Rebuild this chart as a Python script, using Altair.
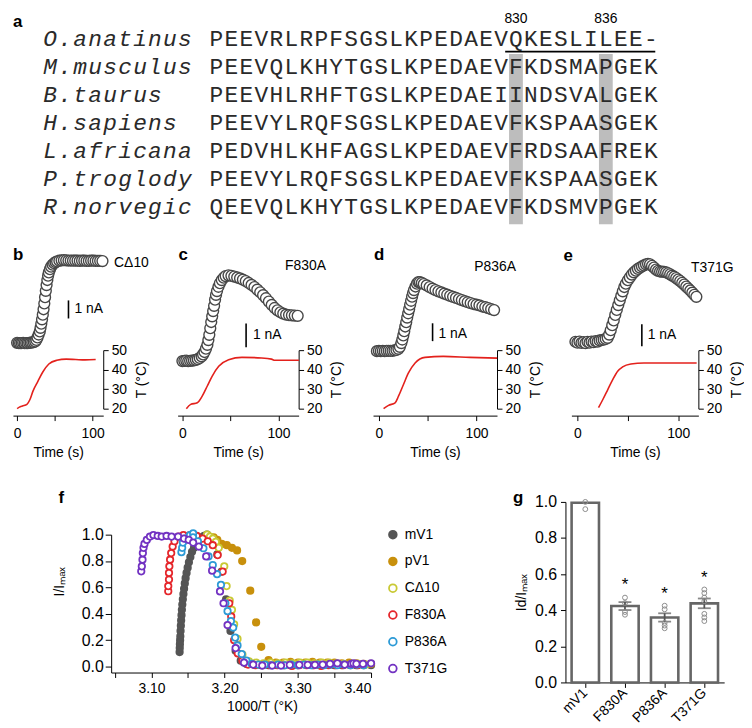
import altair as alt
import pandas as pd

SANS = "Liberation Sans"
MONO = "Liberation Mono"

# ---------------- panel a : sequence alignment ----------------
species = ["O.anatinus", "M.musculus", "B.taurus", "H.sapiens",
           "L.africana", "P.troglody", "R.norvegic"]
sequences = [
    "PEEVRLRPFSGSLKPEDAEVQKESLILEE-",
    "PEEVQLKHYTGSLKPEDAEVFKDSMAPGEK",
    "PEEVHLRHFTGSLKPEDAEIINDSVALGEK",
    "PEEVYLRQFSGSLKPEDAEVFKSPAASGEK",
    "PEDVHLKHFAGSLKPEDAEVFRDSAAFREK",
    "PEEVYLRQFSGSLKPEDAEVFKSPAASGEK",
    "QEEVQLKHYTGSLKPEDAEVFKDSMVPGEK",
]
marked_cols = [20, 26]
marked_labels = ["830", "836"]
underline_cols = [20, 29]

# ---------------- panels b-e : current traces (s, nA) and temperature (s, degC) ----------------
b_trace = [(0,0.02),(2,0.01),(4,0.0),(6,0.01),(8,0.02),(10,0.0),(12,0.01),(14,0.0),(16,0.02),(18,0.03),
           (20,0.04),(22,0.06),(24,0.1),(25.5,0.18),(27,0.32),(28.5,0.48),(30,0.65),(31,0.85),(32,1.08),
           (33,1.32),(34,1.58),(35,1.88),(36,2.2),(37,2.55),(38,2.9),(39,3.22),(40,3.5),(41,3.74),(42,3.92),
           (43.5,4.1),(45,4.24),(47,4.35),(49,4.43),(51,4.49),(53,4.53),(56,4.57),(59,4.59),(62,4.6),(65,4.59),
           (68,4.58),(71,4.58),(74,4.57),(77,4.57),(80,4.57),(83,4.56),(86,4.57),(89,4.57),(92,4.56),(95,4.56),
           (98,4.57),(101,4.57),(104,4.56),(107,4.56),(110,4.56),(113,4.55)]
c_trace = [(0,0.0),(2,0.01),(4,0.02),(6,0.0),(8,0.01),(10,0.02),(12,0.03),(14,0.05),(16,0.08),(18,0.13),
           (20,0.2),(21.5,0.28),(23,0.38),(24.5,0.52),(26,0.68),(27,0.88),(28,1.1),(29,1.38),(30,1.64),(31,1.88),
           (32,2.1),(33,2.32),(34,2.58),(35,2.78),(36,2.94),(37.5,3.12),(39,3.27),(41,3.4),(43,3.5),(45,3.57),
           (48,3.6),(51,3.58),(54,3.55),(57,3.51),(60,3.47),(63,3.42),(66,3.36),(69,3.28),(72,3.2),(75,3.11),
           (78,3.0),(81,2.89),(84,2.77),(87,2.64),(90,2.5),(93,2.36),(96,2.23),(99,2.13),(102,2.05),(105,1.99),
           (108,1.95),(111,1.93),(114,1.92),(117,1.91),(120,1.9)]
d_trace = [(-2,0.0),(0,0.01),(2,0.0),(4,0.01),(6,0.0),(8,0.01),(10,0.02),(12,0.01),(14,0.02),(16,0.04),
           (18,0.07),(20,0.13),(21.5,0.24),(23,0.45),(24,0.65),(25,0.88),(26,1.12),(27,1.38),(28,1.62),(29,1.88),
           (30,2.12),(31,2.35),(32,2.6),(33,2.82),(34,3.05),(35,3.25),(36,3.42),(37.5,3.62),(39,3.78),(40.5,3.87),
           (42,3.86),(44,3.82),(46,3.76),(49,3.68),(52,3.59),(55,3.5),(58,3.42),(61,3.35),(64,3.29),(67,3.22),
           (70,3.16),(73,3.1),(76,3.04),(79,2.98),(82,2.92),(85,2.86),(88,2.8),(91,2.74),(94,2.69),(97,2.64),
           (100,2.6),(103,2.56),(106,2.5),(109,2.46),(112,2.41),(115,2.35),(118,2.3)]
e_trace = [(-2,0.02),(0,-0.02),(2,0.03),(4,-0.03),(6,0.0),(8,-0.04),(10,0.02),(12,-0.02),(14,0.03),(16,0.0),
           (18,0.05),(20,0.03),(22,0.08),(24,0.1),(26,0.12),(28,0.15),(30,0.2),(31.5,0.35),(33,0.55),(34.5,0.78),
           (36,1.0),(37.5,1.25),(39,1.48),(40.5,1.7),(42,1.92),(43.5,2.12),(45,2.33),(46.5,2.53),(48,2.68),(50,2.84),
           (52,2.97),(54,3.1),(56,3.2),(58,3.28),(60,3.36),(62,3.42),(64,3.47),(66,3.52),(68,3.57),(70,3.59),
           (72,3.57),(74,3.5),(76,3.42),(78,3.33),(80,3.27),(82,3.24),(84,3.23),(86,3.22),(88,3.2),(90,3.16),
           (92,3.11),(94,3.05),(96,3.0),(98,2.94),(100,2.87),(102,2.8),(104,2.72),(106,2.64),(108,2.55),(110,2.46),
           (112,2.37),(114,2.27),(116,2.17),(118,2.08)]

b_temp = [(0,20),(3,20.8),(7,21.4),(13,22.2),(17,24.7),(21,29),(27.5,34),(34,38.8),(42,42.9),(52.5,44.8),
          (65,45.4),(77.5,45.2),(90,45),(104,45.2)]
c_temp = [(4.1,20),(8.6,22.2),(15.5,23),(20.6,26.4),(25.8,31.5),(30.9,36.6),(37.8,41.7),(48.1,45.1),
          (61.9,46.3),(82.5,46),(92.8,45.4),(96.2,44.8),(121.3,44.8)]
d_temp = [(4.8,20),(9.9,21.7),(16.6,23),(20.1,26.4),(25.2,32.4),(30.3,38.3),(37.1,43.4),(47.3,46.3),
          (66,46.8),(93.2,46.3),(121.1,45.9)]
e_temp = [(20.9,20.5),(25.2,24.7),(30.1,29.8),(35,34.9),(39.9,39.2),(44.8,41.4),(53,42.9),(66,43.4),
          (82,43.4),(118.3,43.4)]

# ---------------- panel f : I/Imax vs 1000/T ----------------
f_series = ["mV1", "pV1", "C\u039410", "F830A", "P836A", "T371G"]
mV1_pts = [(3.1385,0.11),(3.1387,0.14),(3.1389,0.17),(3.1392,0.20),(3.1395,0.23),(3.1398,0.27),(3.1402,0.31),
           (3.1406,0.35),(3.1411,0.39),(3.1416,0.43),(3.1422,0.47),(3.1429,0.51),(3.1437,0.55),(3.1446,0.59),
           (3.1456,0.63),(3.1467,0.67),(3.1480,0.71),(3.1495,0.75),(3.1512,0.79),(3.1532,0.83),(3.1555,0.87),
           (3.1582,0.90),(3.1612,0.93),(3.1645,0.96),(3.1680,0.98),(3.1720,0.99),(3.1760,1.00),(3.1800,0.98),
           (3.1850,0.93),(3.1900,0.85),(3.1960,0.72),(3.2020,0.51),(3.2080,0.27),(3.2150,0.12),(3.2220,0.045),
           (3.2300,0.02),(3.2400,0.015),(3.2500,0.01),(3.2600,0.01),(3.2700,0.015),(3.2800,0.01),(3.2900,0.01),
           (3.3000,0.01),(3.3100,0.015),(3.3200,0.01),(3.3300,0.01),(3.3400,0.015),(3.3500,0.01),(3.3600,0.01),
           (3.3700,0.015),(3.3800,0.01),(3.3900,0.01),(3.4000,0.01)]
pV1_pts = [(3.185,0.98),(3.190,0.96),(3.196,0.93),(3.203,0.92),(3.210,0.90),(3.217,0.88),(3.224,0.80),
           (3.235,0.575),(3.243,0.335),(3.250,0.15),(3.260,0.05),(3.270,0.03),(3.280,0.03),(3.290,0.035),
           (3.300,0.03),(3.310,0.03),(3.320,0.035),(3.330,0.03),(3.340,0.03),(3.350,0.03),(3.360,0.025),
           (3.370,0.03),(3.380,0.025),(3.390,0.02),(3.400,0.02)]
cd10_pts = [(3.176,1.0),(3.180,0.985),(3.184,0.97),(3.188,0.945),(3.192,0.90),(3.1995,0.76),(3.2027,0.61),
            (3.207,0.50),(3.210,0.43),(3.213,0.32),(3.2176,0.21),(3.2243,0.09),(3.2333,0.04),(3.243,0.03),
            (3.253,0.025),(3.263,0.03),(3.273,0.025),(3.283,0.03),(3.293,0.025),(3.303,0.03),(3.313,0.03),
            (3.323,0.025),(3.333,0.03),(3.343,0.03),(3.353,0.025),(3.363,0.02),(3.373,0.02),(3.383,0.02),
            (3.393,0.015)]
f830_pts = [(3.123,0.571),(3.123,0.61),(3.124,0.66),(3.124,0.71),(3.1245,0.76),(3.1255,0.81),(3.127,0.86),
            (3.129,0.91),(3.1315,0.95),(3.137,0.985),(3.1437,0.997),(3.1527,0.997),(3.162,0.99),(3.170,0.97),
            (3.177,0.95),(3.1838,0.92),(3.1905,0.845),(3.1973,0.72),(3.2063,0.48),(3.209,0.38),(3.213,0.20),
            (3.218,0.10),(3.2243,0.045),(3.232,0.015),(3.242,0.01),(3.252,0.01),(3.262,0.01),(3.272,0.01),
            (3.282,0.01),(3.292,0.005),(3.302,0.01),(3.312,0.01),(3.322,0.01),(3.332,0.005),(3.342,0.01),
            (3.352,0.01),(3.362,0.01),(3.372,0.01),(3.382,0.01)]
p836_pts = [(3.141,0.867),(3.142,0.90),(3.143,0.94),(3.1465,0.97),(3.1527,0.997),(3.157,1.01),(3.1568,0.98),
            (3.1635,0.95),(3.171,0.897),(3.178,0.835),(3.1838,0.77),(3.1897,0.70),(3.195,0.62),(3.201,0.48),
            (3.204,0.42),(3.2086,0.345),(3.2117,0.296),(3.2144,0.22),(3.2176,0.16),(3.2234,0.095),(3.2297,0.046),
            (3.237,0.02),(3.246,0.015),(3.255,0.015),(3.264,0.01),(3.273,0.015),(3.282,0.01),(3.291,0.015),
            (3.30,0.01),(3.309,0.015),(3.318,0.01),(3.327,0.015),(3.336,0.01),(3.345,0.015),(3.354,0.01),
            (3.363,0.015),(3.372,0.01),(3.381,0.015),(3.39,0.01)]
t371_pts = [(3.0861,0.722),(3.0869,0.76),(3.0878,0.81),(3.0883,0.86),(3.0892,0.90),(3.0905,0.93),(3.0937,0.96),
            (3.098,0.985),(3.1027,0.997),(3.1086,0.99),(3.114,0.985),(3.1207,0.99),(3.1275,0.985),(3.1365,0.985),
            (3.1446,0.97),(3.151,0.96),(3.157,0.94),(3.1648,0.91),(3.1748,0.835),(3.1829,0.727),(3.1937,0.57),
            (3.1985,0.48),(3.204,0.315),(3.215,0.14),(3.2265,0.03),(3.239,0.015),(3.2514,0.008),(3.265,0.008),
            (3.277,0.008),(3.289,0.013),(3.302,0.013),(3.3135,0.013),(3.3234,0.013),(3.334,0.015),(3.344,0.02),
            (3.354,0.025),(3.364,0.015),(3.373,0.02),(3.376,0.025),(3.380,0.02),(3.389,0.02),(3.400,0.025)]
f_values = [mV1_pts, pV1_pts, cd10_pts, f830_pts, p836_pts, t371_pts]
f_colors = ["#555555", "#c8900c", "#c9c935", "#e5262b", "#2c9ad6", "#7232c2"]
f_fills = ["#555555", "#c8900c", "white", "white", "white", "white"]

# ---------------- panel g : Id/Imax ----------------
g_groups = ["mV1", "F830A", "P836A", "T371G"]
g_means = [0.995, 0.423, 0.36, 0.438]
g_sem = [0.0, 0.022, 0.023, 0.027]
g_points = [[1.0, 0.96], [0.47, 0.44, 0.39, 0.375], [0.425, 0.405, 0.33, 0.315, 0.30],
            [0.515, 0.495, 0.47, 0.45, 0.38, 0.36, 0.34]]
g_star = [None, 0.54, 0.49, 0.577]

# =====================================================================
W, HT = 730, 674          # one drawing area; every panel has its own scales inside it
layers = []

# ---------------- panel a ----------------
A_X = alt.Scale(domain=[-13.58, 34.76], range=[0, W], nice=False, zero=False)
A_Y = alt.Scale(domain=[-0.894, 6.7], range=[0, 215], nice=False, zero=False)
seq_df = pd.DataFrame([{"row": r, "col": c, "ch": ch}
                       for r, s in enumerate(sequences) for c, ch in enumerate(s)])
name_df = pd.DataFrame([{"row": r, "col": -11.1 + k, "ch": ch}
                        for r, s in enumerate(species) for k, ch in enumerate(s)])
hl_df = pd.DataFrame({"x0": [c - 0.46 for c in marked_cols], "x1": [c + 0.46 for c in marked_cols],
                      "y0": [0.53] * 2, "y1": [6.6] * 2})
num_df = pd.DataFrame({"col": marked_cols, "label": marked_labels, "row": [-0.72] * 2})
ul_df = pd.DataFrame({"x0": [underline_cols[0] - 0.72], "x1": [underline_cols[1] + 0.3], "y": [0.45]})
a_lab = pd.DataFrame({"col": [-13.58], "row": [-0.894], "t": ["a"]})

ax = lambda f: alt.X(f, scale=A_X, axis=None)
ay = lambda f: alt.Y(f, scale=A_Y, axis=None)
layers += [
    alt.Chart(hl_df).mark_rect(color="#bdbdbd").encode(x=ax("x0:Q"), x2="x1:Q", y=ay("y0:Q"), y2="y1:Q"),
    alt.Chart(ul_df).mark_rule(color="black", strokeWidth=1.8).encode(x=ax("x0:Q"), x2="x1:Q", y=ay("y:Q")),
    alt.Chart(seq_df).mark_text(font=MONO, fontSize=23, color="#2a2a2a", baseline="middle").encode(
        x=ax("col:Q"), y=ay("row:Q"), text="ch:N"),
    alt.Chart(name_df).mark_text(font=MONO, fontSize=23, fontStyle="italic", color="#2a2a2a",
                                 baseline="middle").encode(x=ax("col:Q"), y=ay("row:Q"), text="ch:N"),
    alt.Chart(num_df).mark_text(font=SANS, fontSize=14, baseline="middle").encode(
        x=ax("col:Q"), y=ay("row:Q"), text="label:N"),
    alt.Chart(a_lab).mark_text(font=SANS, fontSize=17, fontWeight="bold", align="left", baseline="top").encode(
        x=ax("col:Q"), y=ay("row:Q"), text="t:N"),
]

# ---------------- panels b-e ----------------
panel_cfg = [
    dict(letter="b", name="C\u039410", trace=b_trace, temp=b_temp, tdom=[-5.5, 114], xr=[0, 91], base=332, ppn=18.2,
         bar=(68.0, 1.37), nA=(75.9, 1.87), name_at=(128.4, 4.45), name_align="left", letter_at=(-5.5, 4.6)),
    dict(letter="c", name="F830A", trace=c_trace, temp=c_temp, tdom=[-5, 121], xr=[166, 288], base=350, ppn=24,
         bar=(66.3, 0.58), nA=(73.5, 1.08), name_at=(128.2, 4.0), name_align="center", letter_at=(-4, 4.25)),
    dict(letter="d", name="P836A", trace=d_trace, temp=d_temp, tdom=[-6, 121], xr=[363, 488], base=340, ppn=18,
         bar=(55, 0.56), nA=(61.1, 0.94), name_at=(119, 4.72), name_align="center", letter_at=(-5, 5.1)),
    dict(letter="e", name="T371G", trace=e_trace, temp=e_temp, tdom=[-6, 120], xr=[563, 691], base=331, ppn=22,
         bar=(63.9, -0.18), nA=(69.8, 0.32), name_at=(133.8, 3.41), name_align="center", letter_at=(-13.9, 3.72)),
]
T_RANGE = [398, 339]      # 20 degC .. 50 degC
TIME_AXIS_Y = 405

for p in panel_cfg:
    xs = alt.Scale(domain=p["tdom"], range=p["xr"], nice=False, zero=False)
    cur = alt.Scale(domain=[0, 1], range=[p["base"], p["base"] - p["ppn"]], nice=False, zero=False)
    tsc = alt.Scale(domain=[20, 50], range=T_RANGE, nice=False, zero=False)
    tdf = pd.DataFrame(p["temp"], columns=["t", "T"])
    cdf = pd.DataFrame(p["trace"], columns=["t", "I"])
    xaxis = alt.Axis(orient="bottom", values=[0, 50, 100], labelExpr="datum.value == 50 ? '' : datum.label",
                     offset=TIME_AXIS_Y - HT, title="Time (s)", labelPadding=6, titlePadding=5)
    yaxis = alt.Axis(orient="right", values=[20, 30, 40, 50], title="T (\u00b0C)", titleAngle=270,
                     titleBaseline="top", titlePadding=8, labelPadding=3, offset=p["xr"][1] - W)
    X0 = alt.X("t:Q", scale=xs, axis=None)
    layers.append(alt.Chart(tdf).mark_line(color="#e3211c", strokeWidth=1.6, interpolate="monotone").encode(
        x=alt.X("t:Q", scale=xs, axis=xaxis), y=alt.Y("T:Q", scale=tsc, axis=yaxis)))
    layers.append(alt.Chart(cdf).mark_circle(size=120, fill="white", stroke="#474747", strokeWidth=1.4,
                                             opacity=1).encode(x=X0, y=alt.Y("I:Q", scale=cur, axis=None)))
    bdf = pd.DataFrame({"t": [p["bar"][0]], "I0": [p["bar"][1]], "I1": [p["bar"][1] + 1]})
    layers.append(alt.Chart(bdf).mark_rule(color="black", strokeWidth=1.6).encode(
        x=X0, y=alt.Y("I0:Q", scale=cur, axis=None), y2="I1:Q"))
    ndf = pd.DataFrame({"t": [p["nA"][0], p["name_at"][0]], "I": [p["nA"][1], p["name_at"][1]],
                        "s": ["1 nA", p["name"]]})
    layers.append(alt.Chart(ndf.iloc[:1]).mark_text(font=SANS, fontSize=14, align="left", baseline="middle").encode(
        x=X0, y=alt.Y("I:Q", scale=cur, axis=None), text="s:N"))
    layers.append(alt.Chart(ndf.iloc[1:]).mark_text(font=SANS, fontSize=14, align=p["name_align"],
                                                    baseline="middle").encode(
        x=X0, y=alt.Y("I:Q", scale=cur, axis=None), text="s:N"))
    ldf = pd.DataFrame({"t": [p["letter_at"][0]], "I": [p["letter_at"][1]], "s": [p["letter"]]})
    layers.append(alt.Chart(ldf).mark_text(font=SANS, fontSize=17, fontWeight="bold", align="left",
                                           baseline="alphabetic").encode(
        x=X0, y=alt.Y("I:Q", scale=cur, axis=None), text="s:N"))

# ---------------- panel f ----------------
F_X = alt.Scale(domain=[3.045, 3.40], range=[99, 361], nice=False, zero=False)
F_Y = alt.Scale(domain=[-0.045, 1.0], range=[664, 525], nice=False, zero=False)
f_rows = []
for name, pts in zip(f_series, f_values):
    for v, i in pts:
        f_rows.append({"series": name, "v": v, "I": i})
fdf = pd.DataFrame(f_rows)
f_leg = alt.Legend(title=None, orient="none", legendX=376, legendY=518, labelFontSize=14, labelFont=SANS,
                   symbolSize=60, symbolStrokeWidth=1.8, rowPadding=11, labelOffset=5, padding=0)
layers.append(alt.Chart(fdf).mark_point(shape="circle", size=42, strokeWidth=1.8, opacity=1).encode(
    x=alt.X("v:Q", scale=F_X, axis=alt.Axis(
        orient="bottom", values=[3.05, 3.10, 3.15, 3.20, 3.25, 3.30, 3.35, 3.40],
        labelExpr="(round(datum.value*100) % 10 == 0) ? format(datum.value, '.2f') : ''",
        title="1000/T (\u00b0K)", titleX=251, labelPadding=4, titlePadding=4, offset=664 - HT)),
    y=alt.Y("I:Q", scale=F_Y, axis=alt.Axis(orient="left", values=[0, 0.2, 0.4, 0.6, 0.8, 1.0], format=".1f",
                                           title="I/I\u2098\u2090\u2093", offset=-99, titleY=572, tickSize=6,
                                           labelFontSize=16, labelPadding=2, titlePadding=15)),
    stroke=alt.Stroke("series:N", scale=alt.Scale(domain=f_series, range=f_colors), legend=f_leg),
    fill=alt.Fill("series:N", scale=alt.Scale(domain=f_series, range=f_fills), legend=f_leg),
))
f_lab = pd.DataFrame({"v": [2.9732], "I": [1.2407], "s": ["f"]})
layers.append(alt.Chart(f_lab).mark_text(font=SANS, fontSize=17, fontWeight="bold", align="left",
                                         baseline="alphabetic").encode(
    x=alt.X("v:Q", scale=F_X, axis=None), y=alt.Y("I:Q", scale=F_Y, axis=None), text="s:N"))

# ---------------- panel g ----------------
G_X = alt.Scale(domain=g_groups, range=[557, 717], paddingInner=0.31, paddingOuter=0.155)
G_Y = alt.Scale(domain=[0, 1], range=[674, 492], nice=False, zero=False)
gdf = pd.DataFrame({"group": g_groups, "mean": g_means, "lo": [m - s for m, s in zip(g_means, g_sem)],
                    "hi": [m + s for m, s in zip(g_means, g_sem)]})
gpts = pd.DataFrame([{"group": g, "val": v} for g, vals in zip(g_groups, g_points) for v in vals])
gstar = pd.DataFrame([{"group": g, "y": s, "t": "*"} for g, s in zip(g_groups, g_star) if s is not None])
gerr = gdf[gdf["group"] != "mV1"]
gx = alt.X("group:N", scale=G_X, sort=g_groups, axis=alt.Axis(
    orient="bottom", title=None, labelAngle=315, labelAlign="right", labelBaseline="middle", labelPadding=3))
gx0 = alt.X("group:N", scale=G_X, sort=g_groups, axis=None)
gy0 = lambda f: alt.Y(f, scale=G_Y, axis=None)
layers += [
    alt.Chart(gdf).mark_bar(fill="white", stroke="#666666", strokeWidth=2.6).encode(
        x=gx, y=alt.Y("mean:Q", scale=G_Y, axis=alt.Axis(orient="left", values=[0, 0.2, 0.4, 0.6, 0.8, 1.0],
                                                        format=".1f", title="Id/I\u2098\u2090\u2093",
                                                        labelFontSize=16, labelPadding=4, titlePadding=6,
                                                        offset=-557)),
        y2=alt.Y2(datum=0)),
    alt.Chart(gerr).mark_rule(color="#555555", strokeWidth=1.8).encode(x=gx0, y=gy0("lo:Q"), y2="hi:Q"),
    alt.Chart(gerr).mark_tick(color="#555555", thickness=1.8, size=13).encode(x=gx0, y=gy0("lo:Q")),
    alt.Chart(gerr).mark_tick(color="#555555", thickness=1.8, size=13).encode(x=gx0, y=gy0("hi:Q")),
    alt.Chart(gpts).mark_point(shape="circle", size=24, stroke="#8c8c8c", strokeWidth=1, filled=False,
                               opacity=1).encode(x=gx0, y=gy0("val:Q")),
    alt.Chart(gstar).mark_text(font=SANS, fontSize=17, baseline="middle").encode(
        x=gx0, y=gy0("y:Q"), text="t:N"),
    alt.Chart(pd.DataFrame({"group": ["mV1"], "y": [1.0], "s": ["g"]})).mark_text(
        font=SANS, fontSize=17, fontWeight="bold", align="left", baseline="alphabetic", dx=-73, dy=1).encode(
        x=gx0, y=gy0("y:Q"), text="s:N"),
]

chart = alt.layer(*layers).resolve_scale(x="independent", y="independent").properties(
    width=W, height=HT, padding=0).configure_view(stroke=None).configure_axis(
    domainColor="black", tickColor="black", labelColor="black", titleColor="black",
    labelFont=SANS, titleFont=SANS, labelFontSize=14, titleFontSize=14, titleFontWeight="normal",
    grid=False, domainWidth=1, tickWidth=1, tickSize=5)

chart.save("out.html", embed_options={"renderer": "svg", "actions": False})
